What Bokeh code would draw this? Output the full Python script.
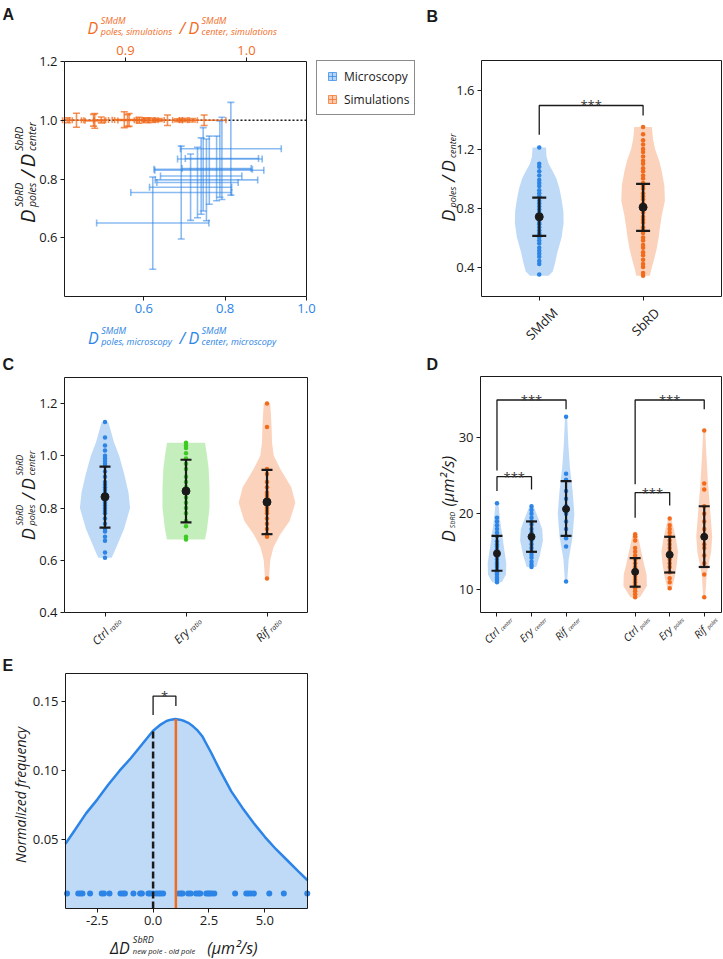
import math
from bokeh.plotting import figure
from bokeh.models import Range1d, LinearAxis, FixedTicker, Label, Legend, LegendItem
from bokeh.layouts import row, column
from bokeh.embed import file_html
from bokeh.resources import INLINE

FONT = "Open Sans"
LETTER_FONT = "Liberation Sans"
INK = "#1a1a1a"
BLUE = "#2b84e6"
ORANGE = "#f26b1d"
GREEN = "#3ccb22"

# ---------------- Panel A data ----------------
A_xr = (0.405, 1.0)
A_top_xr = (0.8496, 1.0496)
A_yr = (0.4, 1.2)
A_xticks = [0.6, 0.8, 1.0]
A_xlabels = ["0.6", "0.8", "1.0"]
A_topticks = [0.9, 1.0]
A_toplabels = ["0.9", "1.0"]
A_yticks = [0.6, 0.8, 1.0, 1.2]
A_ylabels = ["0.6", "0.8", "1.0", "1.2"]
A_unity = 1.0
mic_x = [0.622, 0.692, 0.715, 0.732, 0.741, 0.746, 0.754, 0.761, 0.779, 0.787, 0.792, 0.814]
mic_xerr = [0.138, 0.124, 0.101, 0.100, 0.100, 0.121, 0.126, 0.134, 0.085, 0.104, 0.090, 0.124]
mic_y = [0.650, 0.754, 0.772, 0.788, 0.810, 0.833, 0.797, 0.830, 0.836, 0.868, 0.870, 0.903]
mic_yerr = [0.157, 0.158, 0.113, 0.120, 0.130, 0.142, 0.139, 0.116, 0.110, 0.130, 0.140, 0.158]
sim_x = [0.852, 0.8595, 0.8736, 0.8746, 0.880, 0.899, 0.9017, 0.903, 0.9113, 0.9155, 0.9188,
         0.9229, 0.928, 0.9347, 0.943, 0.9485, 0.9554, 0.965]
sim_xerr = [0.004, 0.006, 0.010, 0.008, 0.006, 0.010, 0.008, 0.012, 0.004, 0.004, 0.004,
            0.004, 0.004, 0.010, 0.004, 0.004, 0.004, 0.018]
sim_y = [1.000, 1.000, 1.000, 0.998, 1.001, 1.002, 0.999, 1.001, 1.000, 1.001, 1.000,
         1.000, 1.001, 1.000, 1.000, 1.001, 1.000, 1.000]
sim_yerr = [0.008, 0.024, 0.020, 0.025, 0.010, 0.027, 0.020, 0.022, 0.010, 0.006, 0.008,
            0.006, 0.005, 0.018, 0.005, 0.006, 0.006, 0.018]
legend_labels = ["Microscopy", "Simulations"]

# ---------------- Panel B data ----------------
B_cats = ["SMdM", "SbRD"]
B_pos = [0, 1]
B_xr = (-0.556, 1.755)
B_yr = (0.2, 1.8)
B_yticks = [0.4, 0.8, 1.2, 1.6]
B_ylabels = ["0.4", "0.8", "1.2", "1.6"]
smdm_prof_y = [0.34, 0.37, 0.42, 0.50, 0.60, 0.70, 0.78, 0.86, 0.93, 1.00, 1.05, 1.10, 1.15, 1.21]
smdm_prof_w = [0.09, 0.13, 0.15, 0.175, 0.215, 0.235, 0.232, 0.215, 0.195, 0.165, 0.13, 0.09, 0.07, 0.065]
sbrd_prof_y = [0.34, 0.40, 0.45, 0.52, 0.60, 0.68, 0.75, 0.85, 0.95, 1.05, 1.12, 1.20, 1.27, 1.35]
sbrd_prof_w = [0.065, 0.085, 0.105, 0.13, 0.15, 0.165, 0.18, 0.21, 0.205, 0.18, 0.155, 0.115, 0.095, 0.085]
smdm_pts = [0.35, 0.42, 0.44, 0.47, 0.49, 0.51, 0.53, 0.56, 0.58, 0.60, 0.62, 0.63, 0.65, 0.67, 0.69,
            0.70, 0.72, 0.74, 0.75, 0.77, 0.79, 0.81, 0.83, 0.85, 0.88, 0.90, 0.92, 0.95, 0.97,
            0.99, 1.02, 1.05, 1.08, 1.10, 1.21]
sbrd_pts = [0.34, 0.36, 0.40, 0.42, 0.45, 0.48, 0.50, 0.53, 0.55, 0.58, 0.60, 0.63, 0.65, 0.67,
            0.70, 0.72, 0.74, 0.77, 0.79, 0.81, 0.83, 0.86, 0.88, 0.90, 0.93, 0.95, 0.97, 1.00,
            1.02, 1.05, 1.07, 1.10, 1.12, 1.15, 1.18, 1.20, 1.23, 1.26, 1.30, 1.35]
B_mean = [0.74, 0.805]
B_lo = [0.611, 0.645]
B_hi = [0.87, 0.964]
B_sig = [(0, 1, 1.495, 1.297, 1.427, "***")]

# ---------------- Panel C data ----------------
C_cats = ["Ctrl", "Ery", "Rif"]
C_sub = "ratio"
C_pos = [0, 1, 2]
C_xr = (-0.5, 2.5)
C_yr = (0.4, 1.3)
C_yticks = [0.4, 0.6, 0.8, 1.0, 1.2]
C_ylabels = ["0.4", "0.6", "0.8", "1.0", "1.2"]
C_prof_y = [
    [0.61, 0.65, 0.72, 0.80, 0.86, 0.93, 1.00, 1.05, 1.10, 1.13],
    [0.68, 0.72, 0.80, 0.88, 0.95, 1.00, 1.05],
    [0.53, 0.60, 0.65, 0.70, 0.75, 0.82, 0.88, 0.95, 1.00, 1.05, 1.10, 1.15, 1.20],
]
C_prof_w = [
    [0.083, 0.14, 0.235, 0.31, 0.29, 0.237, 0.175, 0.113, 0.068, 0.04],
    [0.235, 0.26, 0.29, 0.29, 0.28, 0.26, 0.235],
    [0.025, 0.04, 0.08, 0.165, 0.28, 0.35, 0.30, 0.165, 0.083, 0.062, 0.058, 0.05, 0.04],
]
C_pts = [
    [0.61, 0.63, 0.675, 0.69, 0.71, 0.72, 0.74, 0.76, 0.78, 0.79, 0.80, 0.81, 0.82, 0.83, 0.84,
     0.85, 0.86, 0.87, 0.88, 0.89, 0.90, 0.92, 0.94, 0.96, 0.97, 0.98, 0.99, 1.00, 1.02, 1.04, 1.07, 1.13],
    [0.68, 0.69, 0.73, 0.75, 0.78, 0.80, 0.82, 0.84, 0.86, 0.88, 0.90, 0.92, 0.95, 0.97, 0.99,
     1.01, 1.03, 1.04, 1.05],
    [0.53, 0.69, 0.70, 0.72, 0.74, 0.76, 0.78, 0.79, 0.80, 0.81, 0.82, 0.83, 0.84, 0.85, 0.86,
     0.88, 0.90, 0.93, 0.95, 1.11, 1.20],
]
C_colors = [BLUE, GREEN, ORANGE]
C_mean = [0.843, 0.865, 0.823]
C_lo = [0.725, 0.745, 0.70]
C_hi = [0.959, 0.985, 0.946]

# ---------------- Panel D data ----------------
D_cats = ["Ctrl", "Ery", "Rif", "Ctrl", "Ery", "Rif"]
D_subs = ["center", "center", "center", "poles", "poles", "poles"]
D_pos = [0, 1, 2, 4, 5, 6]
D_xr = (-0.477, 6.5)
D_yr = (7.0, 38.1)
D_yticks = [10, 20, 30]
D_ylabels = ["10", "20", "30"]
D_prof_y = [
    [11.0, 12.0, 13.5, 15.0, 17.0, 19.0, 21.4],
    [13.0, 14.5, 16.5, 18.0, 19.5, 21.0],
    [11.0, 14.0, 17.0, 20.0, 23.0, 26.0, 29.0, 32.8],
    [9.0, 10.5, 12.0, 13.5, 15.0, 16.5, 17.3],
    [10.0, 11.5, 13.5, 15.0, 16.5, 18.0, 19.4],
    [9.0, 12.0, 15.0, 17.0, 20.0, 24.0, 28.0, 31.0],
]
D_prof_w = [
    [0.14, 0.26, 0.27, 0.22, 0.157, 0.095, 0.04],
    [0.14, 0.24, 0.33, 0.31, 0.19, 0.06],
    [0.03, 0.076, 0.19, 0.24, 0.19, 0.114, 0.067, 0.03],
    [0.14, 0.34, 0.33, 0.25, 0.18, 0.11, 0.06],
    [0.05, 0.14, 0.21, 0.24, 0.19, 0.12, 0.04],
    [0.03, 0.07, 0.20, 0.23, 0.18, 0.11, 0.06, 0.03],
]
D_pts = [
    [11.0, 11.3, 11.6, 12.0, 12.3, 12.6, 13.0, 13.3, 13.6, 14.0, 14.3, 14.6, 15.0, 15.3, 15.7,
     16.0, 16.4, 17.0, 17.5, 18.0, 18.5, 19.0, 19.5, 21.4],
    [13.0, 13.3, 13.7, 14.2, 14.6, 15.0, 15.5, 16.0, 16.5, 17.0, 17.5, 18.0, 18.6, 19.0, 19.5,
     20.0, 20.5, 21.0],
    [11.1, 15.7, 16.8, 17.0, 18.0, 19.0, 20.0, 20.6, 21.0, 22.0, 23.0, 24.5, 25.3, 32.8],
    [9.0, 9.4, 9.8, 10.2, 10.6, 11.0, 11.3, 11.7, 12.0, 12.3, 12.7, 13.0, 13.5, 14.0, 14.5,
     15.0, 15.5, 16.5, 17.0, 17.3],
    [10.2, 11.0, 11.5, 12.3, 13.0, 13.5, 14.0, 14.5, 15.0, 15.5, 16.0, 16.5, 17.0, 17.5, 18.0,
     18.5, 19.4],
    [9.0, 12.0, 13.5, 14.5, 15.5, 16.0, 17.0, 18.0, 19.0, 20.0, 21.0, 23.2, 24.0, 31.0],
]
D_colors = [BLUE, BLUE, BLUE, ORANGE, ORANGE, ORANGE]
D_mean = [14.78, 16.98, 20.63, 12.36, 14.6, 16.98]
D_lo = [12.5, 15.0, 17.1, 10.4, 12.27, 13.0]
D_hi = [17.1, 19.0, 24.3, 14.17, 16.98, 21.0]
D_sig = [(0, 2, 35.0, 25.7, 33.8, "***"), (0, 1, 24.9, 23.0, 23.2, "***"),
         (4, 6, 35.0, 23.9, 33.8, "***"), (4, 5, 22.8, 19.5, 21.1, "***")]

# ---------------- Panel E data ----------------
E_xr = (-3.92, 6.91)
E_yr = (0.0, 0.1705)
E_xticks = [-2.5, 0.0, 2.5, 5.0]
E_xlabels = ["-2.5", "0.0", "2.5", "5.0"]
E_yticks = [0.05, 0.10, 0.15]
E_ylabels = ["0.05", "0.10", "0.15"]
kde_x = [-3.92, -3.5, -3.0, -2.5, -2.0, -1.5, -1.0, -0.5, 0.0, 0.3, 0.6, 0.8, 1.0, 1.2, 1.4,
         1.6, 1.8, 2.0, 2.2, 2.4, 2.6, 2.8, 3.0, 3.5, 4.0, 4.5, 5.0, 5.5, 6.0, 6.5, 6.91]
kde_y = [0.047, 0.057, 0.069, 0.079, 0.090, 0.100, 0.109, 0.119, 0.129, 0.133, 0.136, 0.137,
         0.1375, 0.137, 0.136, 0.1345, 0.132, 0.129, 0.125, 0.119, 0.113, 0.1065, 0.100, 0.085,
         0.073, 0.062, 0.052, 0.043, 0.035, 0.027, 0.0205]
e_pts = [-3.85, -3.35, -3.25, -3.16, -2.82, -2.30, -2.20, -1.95, -1.46, -1.35, -1.26, -0.88,
         -0.58, -0.50, -0.21, -0.13, 0.0, 0.14, 0.25, 0.34, 0.45, 1.15, 1.25, 1.32, 1.57, 1.68,
         1.92, 2.03, 2.11, 2.38, 2.47, 2.54, 2.63, 2.74, 3.67, 4.17, 4.27, 4.38, 4.51, 5.20,
         5.85, 6.90]
e_rug_y = 0.0108
E_zero_x, E_zero_top = 0.0, 0.1295
E_mean_x, E_mean_top = 1.02, 0.1375
E_sig = [(0.0, 1.02, 0.1541, 0.1404, 0.1469, "*")]

# ---------------- text helpers ----------------
CW = {' ': 0.26, ',': 0.25, '.': 0.27, '/': 0.37, '(': 0.30, ')': 0.30, '-': 0.32, '*': 0.55,
      'A': 0.63, 'B': 0.65, 'C': 0.63, 'D': 0.73, 'E': 0.56, 'F': 0.53, 'M': 0.90, 'N': 0.75,
      'R': 0.63, 'S': 0.55, 'I': 0.28,
      'a': 0.56, 'b': 0.61, 'c': 0.48, 'd': 0.61, 'e': 0.56, 'f': 0.34, 'g': 0.55, 'h': 0.61,
      'i': 0.26, 'j': 0.26, 'k': 0.53, 'l': 0.26, 'm': 0.93, 'n': 0.61, 'o': 0.60, 'p': 0.61,
      'q': 0.61, 'r': 0.41, 's': 0.48, 't': 0.35, 'u': 0.61, 'v': 0.50, 'w': 0.78, 'x': 0.50,
      'y': 0.50, 'z': 0.47, 'μ': 0.62, '²': 0.36, 'Δ': 0.60}


def text_width(s, size):
    return sum(CW.get(c, 0.56) for c in s) * size


def put(fig, anchor, dx, dy, text, size, style="normal", color=INK, angle=0.0,
        font=FONT, align="left", baseline="alphabetic"):
    fig.add_layout(Label(x=anchor[0], y=anchor[1], x_offset=dx, y_offset=-dy, text=text,
                         text_font=font, text_font_size=f"{size}px", text_font_style=style,
                         text_color=color, angle=angle, text_align=align,
                         text_baseline=baseline))


def layout_tokens(tokens):
    out, a = [], 0.0
    for t in tokens:
        if t[0] == "t":
            _, s, size, style = t
            out.append((s, size, style, a, 0.0))
            a += text_width(s, size)
        elif t[0] == "g":
            a += t[1]
        else:
            _, sup, sub, ssz, bsz, rise, drop, style = t
            w = 0.0
            if sup:
                out.append((sup, ssz, style, a, -rise))
                w = max(w, text_width(sup, ssz))
            if sub:
                out.append((sub, bsz, style, a, drop))
                w = max(w, text_width(sub, bsz))
            a += w
    return out, a


def math_label(fig, anchor, rx, ry, tokens, angle=0.0, color=INK):
    items, W = layout_tokens(tokens)
    ux, uy = math.cos(angle), -math.sin(angle)
    vx, vy = math.sin(angle), math.cos(angle)
    ox, oy = rx - W / 2 * ux, ry - W / 2 * uy
    for (s, size, style, a, d) in items:
        put(fig, anchor, ox + a * ux + d * vx, oy + a * uy + d * vy, s, size, style, color, angle)


def rot_tick(fig, xval, yval, tokens, pad=5, color=INK):
    th = math.pi / 4
    items, W = layout_tokens(tokens)
    ux, uy = math.cos(th), -math.sin(th)
    vx, vy = math.sin(th), math.cos(th)
    pts = []
    for (s, size, style, a, d) in items:
        w = text_width(s, size)
        for aa in (a, a + w):
            for dd in (d - 0.72 * size, d + 0.22 * size):
                pts.append((aa * ux + dd * vx, aa * uy + dd * vy))
    xmin = min(p[0] for p in pts)
    xmax = max(p[0] for p in pts)
    ymin = min(p[1] for p in pts)
    ox, oy = -(xmin + xmax) / 2, pad - ymin
    for (s, size, style, a, d) in items:
        put(fig, (xval, yval), ox + a * ux + d * vx, oy + a * uy + d * vy, s, size, style, color, th)


def span_x(f0, f1, b0, b1, d0, d1):
    s = (d1 - d0) / (b1 - b0)
    return d0 - (b0 - f0) * s, d1 + (f1 - b1) * s


def span_y(f0, f1, b0, b1, dbot, dtop):
    s = (dtop - dbot) / (b1 - b0)
    return dbot - (f1 - b1) * s, dtop + (b0 - f0) * s


def mkfig(fx, fy, box, xd, yd):
    """fx, fy: canvas extent on the page; box: plot box (left, top, right, bottom) on the page."""
    p = figure(width=fx[1] - fx[0], height=fy[1] - fy[0],
               x_range=Range1d(*span_x(fx[0], fx[1], box[0], box[2], *xd)),
               y_range=Range1d(*span_y(fy[0], fy[1], box[1], box[3], *yd)),
               x_axis_location=None, y_axis_location=None,
               output_backend="svg", toolbar_location=None, min_border=0)
    p.title.visible = False
    p.xgrid.visible = False
    p.ygrid.visible = False
    p.outline_line_color = None
    p.background_fill_color = "white"
    p.border_fill_color = "white"
    return p


def add_axes(p, xd, yd, xticks, xlabels, yticks, ylabels):
    xa = LinearAxis(fixed_location=yd[0], bounds=xd)
    ya = LinearAxis(fixed_location=xd[0], bounds=yd)
    p.add_layout(xa, "below")
    p.add_layout(ya, "left")
    set_ticks(xa, xticks, xlabels)
    set_ticks(ya, yticks, ylabels)
    return xa, ya


def style_axes(p):
    for ax in p.axis:
        ax.major_tick_in = 0
        ax.major_tick_out = 4
        ax.minor_tick_line_color = None
        ax.axis_line_color = None
        ax.major_tick_line_color = INK
        ax.major_label_text_font = FONT
        ax.major_label_text_font_size = "13px"
        ax.major_label_text_color = INK
        ax.major_label_standoff = 3


def set_ticks(ax, ticks, labels):
    ax.ticker = FixedTicker(ticks=ticks)
    ax.major_label_overrides = {float(t): l for t, l in zip(ticks, labels)}


def box(p, xd, yd):
    p.quad(left=[xd[0]], right=[xd[1]], bottom=[yd[0]], top=[yd[1]], fill_color=None,
           line_color=INK, line_width=1)


def violins(p, centers, profs_y, profs_w, colors):
    xs, ys = [], []
    for c, py, pw in zip(centers, profs_y, profs_w):
        xs.append([c - w for w in pw] + [c + w for w in reversed(pw)])
        ys.append(list(py) + list(reversed(py)))
    p.patches(xs, ys, fill_color=colors, fill_alpha=0.3, line_color=None)


def strips(p, centers, pts_list, colors, size):
    for c, pts, col in zip(centers, pts_list, colors):
        p.scatter(x=[c] * len(pts), y=pts, size=size, fill_color=col, line_color=None)


def errbars(p, centers, means, lo, hi, cap, dot, lw=2.2):
    p.segment(x0=centers, y0=lo, x1=centers, y1=hi, line_color=INK, line_width=lw)
    p.scatter(x=list(centers) * 2, y=list(lo) + list(hi), marker="dash", size=cap,
              line_color=INK, line_width=lw)
    p.scatter(x=centers, y=means, size=dot, fill_color=INK, line_color=INK)


def brackets(p, sigs, size=13):
    for (x1, x2, top, yl, yr, txt) in sigs:
        p.line(x=[x1, x1, x2, x2], y=[yl, top, top, yr], line_color=INK, line_width=1.3)
        p.add_layout(Label(x=(x1 + x2) / 2, y=top, y_offset=0, text=txt, text_align="center",
                           text_baseline="alphabetic", text_font=FONT,
                           text_font_size=f"{size}px", text_color="#333333"))


def rel(frame, px, py):
    return px - frame[0], py - frame[1]


# page geometry (canvas pixels)
COLS = [(0, 424), (424, 722)]
ROWS = [(0, 350), (350, 648), (648, 958)]
BOX_A = (64, 61, 306, 296)
BOX_B = (481, 60, 721, 296)
BOX_C = (64, 377, 307, 612)
BOX_D = (480, 376, 721, 612)
BOX_E = (65, 673, 307, 908)

# ---------------- Panel A ----------------
pA = mkfig(COLS[0], ROWS[0], BOX_A, A_xr, A_yr)
pA.extra_x_ranges = {"top": Range1d(*span_x(COLS[0][0], COLS[0][1], BOX_A[0], BOX_A[2], *A_top_xr))}
xaA, yaA = add_axes(pA, A_xr, A_yr, A_xticks, A_xlabels, A_yticks, A_ylabels)
taA = LinearAxis(x_range_name="top", fixed_location=A_yr[1], bounds=A_top_xr)
pA.add_layout(taA, "above")
set_ticks(taA, A_topticks, A_toplabels)
style_axes(pA)
xaA.major_label_text_color = BLUE
taA.major_label_text_color = ORANGE

pA.line(x=list(A_xr), y=[A_unity, A_unity], line_color=INK, line_width=1.5, line_dash="2 2")
mx_lo = [x - e for x, e in zip(mic_x, mic_xerr)]
mx_hi = [x + e for x, e in zip(mic_x, mic_xerr)]
my_lo = [y - e for y, e in zip(mic_y, mic_yerr)]
my_hi = [y + e for y, e in zip(mic_y, mic_yerr)]
bk = dict(line_color=BLUE, line_alpha=0.55, line_width=1.6)
pA.segment(x0=mx_lo, y0=mic_y, x1=mx_hi, y1=mic_y, **bk)
pA.segment(x0=mic_x, y0=my_lo, x1=mic_x, y1=my_hi, **bk)
pA.scatter(x=mx_lo + mx_hi, y=mic_y * 2, marker="dash", angle=math.pi / 2, size=7, **bk)
pA.scatter(x=mic_x * 2, y=my_lo + my_hi, marker="dash", size=7, **bk)
sx_lo = [x - e for x, e in zip(sim_x, sim_xerr)]
sx_hi = [x + e for x, e in zip(sim_x, sim_xerr)]
sy_lo = [y - e for y, e in zip(sim_y, sim_yerr)]
sy_hi = [y + e for y, e in zip(sim_y, sim_yerr)]
ok = dict(line_color=ORANGE, line_alpha=0.75, line_width=1.6, x_range_name="top")
pA.segment(x0=sx_lo, y0=sim_y, x1=sx_hi, y1=sim_y, **ok)
pA.segment(x0=sim_x, y0=sy_lo, x1=sim_x, y1=sy_hi, **ok)
pA.scatter(x=sx_lo + sx_hi, y=sim_y * 2, marker="dash", angle=math.pi / 2, size=6, **ok)
pA.scatter(x=sim_x * 2, y=sy_lo + sy_hi, marker="dash", size=7, **ok)
box(pA, A_xr, A_yr)

# legend (dummy markers placed off-canvas only serve as legend glyphs)
r1 = pA.scatter(x=[A_xr[0] - 5], y=[A_yr[0] - 5], marker="square_cross", size=8,
                fill_color=BLUE, fill_alpha=0.35, line_color=BLUE, line_alpha=0.7)
r2 = pA.scatter(x=[A_xr[0] - 5], y=[A_yr[0] - 5], marker="square_cross", size=8,
                fill_color=ORANGE, fill_alpha=0.35, line_color=ORANGE, line_alpha=0.7)
leg = Legend(items=[LegendItem(label=legend_labels[0], renderers=[r1]),
                    LegendItem(label=legend_labels[1], renderers=[r2])],
             location=(316 - COLS[0][0], ROWS[0][1] - 115), border_line_color=INK,
             border_line_width=1, background_fill_color="white", background_fill_alpha=1.0,
             label_text_font=FONT, label_text_font_size="12px", label_text_color=INK,
             padding=5, spacing=3, glyph_width=20, glyph_height=20, label_standoff=2,
             label_height=20, margin=0)
pA.add_layout(leg)

FA = BOX_A[:2]
aA = (A_xr[0], A_yr[1])
put(pA, aA, *rel(FA, 2, 14), "A", 16, "bold", INK, font=LETTER_FONT)
math_label(pA, aA, *rel(FA, 184, 27),
           [("t", "D", 16, "italic"), ("g", 1.5),
            ("ss", "SMdM", "poles, simulations", 9, 9, 7.5, 3.5, "italic"), ("g", 3),
            ("t", "/", 16, "italic"), ("g", 3), ("t", "D", 16, "italic"), ("g", 1.5),
            ("ss", "SMdM", "center, simulations", 9, 9, 7.5, 3.5, "italic")], 0.0, ORANGE)
math_label(pA, aA, *rel(FA, 184, 337),
           [("t", "D", 16, "italic"), ("g", 1.5),
            ("ss", "SMdM", "poles, microscopy", 9, 9, 7.5, 3.5, "italic"), ("g", 3),
            ("t", "/", 16, "italic"), ("g", 3), ("t", "D", 16, "italic"), ("g", 1.5),
            ("ss", "SMdM", "center, microscopy", 9, 9, 7.5, 3.5, "italic")], 0.0, BLUE)
math_label(pA, aA, *rel(FA, 27, 171),
           [("t", "D", 20, "italic"), ("g", 1.5),
            ("ss", "SbRD", "poles", 10.5, 10.5, 9, 4.5, "italic"), ("g", 3),
            ("t", "/", 20, "italic"), ("g", 3), ("t", "D", 20, "italic"), ("g", 1.5),
            ("ss", "SbRD", "center", 10.5, 10.5, 9, 4.5, "italic")], math.pi / 2, INK)

# ---------------- Panel B ----------------
pB = mkfig(COLS[1], ROWS[0], BOX_B, B_xr, B_yr)
add_axes(pB, B_xr, B_yr, B_pos, ["", ""], B_yticks, B_ylabels)
style_axes(pB)
violins(pB, B_pos, [smdm_prof_y, sbrd_prof_y], [smdm_prof_w, sbrd_prof_w], [BLUE, ORANGE])
strips(pB, B_pos, [smdm_pts, sbrd_pts], [BLUE, ORANGE], 4.5)
errbars(pB, B_pos, B_mean, B_lo, B_hi, 14, 8)
brackets(pB, B_sig)
box(pB, B_xr, B_yr)
FB = BOX_B[:2]
aB = (B_xr[0], B_yr[1])
put(pB, aB, *rel(FB, 426, 16), "B", 16, "bold", INK, font=LETTER_FONT)
math_label(pB, aB, *rel(FB, 447, 176),
           [("t", "D", 18, "italic"), ("g", 1), ("ss", "", "poles", 9, 9, 0, 4.5, "italic"),
            ("g", 3), ("t", "/", 18, "italic"), ("g", 3), ("t", "D", 18, "italic"), ("g", 1),
            ("ss", "", "center", 9, 9, 0, 4.5, "italic")], math.pi / 2, INK)
for pos, cat in zip(B_pos, B_cats):
    rot_tick(pB, pos, B_yr[0], [("t", cat, 13, "normal")], pad=7)

# ---------------- Panel C ----------------
pC = mkfig(COLS[0], ROWS[1], BOX_C, C_xr, C_yr)
add_axes(pC, C_xr, C_yr, C_pos, ["", "", ""], C_yticks, C_ylabels)
style_axes(pC)
violins(pC, C_pos, C_prof_y, C_prof_w, C_colors)
strips(pC, C_pos, C_pts, C_colors, 4.5)
errbars(pC, C_pos, C_mean, C_lo, C_hi, 11, 8)
box(pC, C_xr, C_yr)
FC = BOX_C[:2]
aC = (C_xr[0], C_yr[1])
put(pC, aC, *rel(FC, 2, 364), "C", 16, "bold", INK, font=LETTER_FONT)
math_label(pC, aC, *rel(FC, 27, 494),
           [("t", "D", 18, "italic"), ("g", 1.5),
            ("ss", "SbRD", "poles", 9, 9, 8, 4, "italic"), ("g", 3),
            ("t", "/", 18, "italic"), ("g", 3), ("t", "D", 18, "italic"), ("g", 1.5),
            ("ss", "SbRD", "center", 9, 9, 8, 4, "italic")], math.pi / 2, INK)
for pos, cat in zip(C_pos, C_cats):
    rot_tick(pC, pos, C_yr[0], [("t", cat, 11.5, "italic"), ("g", 1),
                                ("ss", "", C_sub, 7, 7, 0, 3, "italic")], pad=4)

# ---------------- Panel D ----------------
pD = mkfig(COLS[1], ROWS[1], BOX_D, D_xr, D_yr)
add_axes(pD, D_xr, D_yr, D_pos, [""] * 6, D_yticks, D_ylabels)
style_axes(pD)
violins(pD, D_pos, D_prof_y, D_prof_w, D_colors)
strips(pD, D_pos, D_pts, D_colors, 4.5)
errbars(pD, D_pos, D_mean, D_lo, D_hi, 11, 7)
brackets(pD, D_sig)
box(pD, D_xr, D_yr)
FD = BOX_D[:2]
aD = (D_xr[0], D_yr[1])
put(pD, aD, *rel(FD, 426, 364), "D", 16, "bold", INK, font=LETTER_FONT)
math_label(pD, aD, *rel(FD, 447, 497),
           [("t", "D", 18, "italic"), ("g", 1), ("ss", "", "SbRD", 7, 7, 0, 4.5, "italic"),
            ("g", 4), ("t", "(μm²/s)", 16, "italic")], math.pi / 2, INK)
for pos, cat, sub in zip(D_pos, D_cats, D_subs):
    rot_tick(pD, pos, D_yr[0], [("t", cat, 10.5, "italic"), ("g", 1.5),
                                ("ss", "", sub, 5.5, 5.5, 0, 2.5, "italic")], pad=3)

# ---------------- Panel E ----------------
pE = mkfig(COLS[0], ROWS[2], BOX_E, E_xr, E_yr)
add_axes(pE, E_xr, E_yr, E_xticks, E_xlabels, E_yticks, E_ylabels)
style_axes(pE)
pE.varea(x=kde_x, y1=[E_yr[0]] * len(kde_x), y2=kde_y, fill_color=BLUE, fill_alpha=0.3)
pE.line(x=kde_x, y=kde_y, line_color=BLUE, line_width=2.5)
pE.scatter(x=e_pts, y=[e_rug_y] * len(e_pts), size=6, fill_color=BLUE, line_color=None)
pE.segment(x0=[E_zero_x], y0=[E_yr[0]], x1=[E_zero_x], y1=[E_zero_top], line_color=INK,
           line_width=2.5, line_dash="7 3")
pE.segment(x0=[E_mean_x], y0=[E_yr[0]], x1=[E_mean_x], y1=[E_mean_top], line_color=ORANGE,
           line_width=2.5)
brackets(pE, E_sig)
box(pE, E_xr, E_yr)
FE = BOX_E[:2]
aE = (E_xr[0], E_yr[1])
put(pE, aE, *rel(FE, 2, 665), "E", 16, "bold", INK, font=LETTER_FONT)
math_label(pE, aE, *rel(FE, 20, 790), [("t", "Normalized frequency", 14, "italic")],
           math.pi / 2, INK)
math_label(pE, aE, *rel(FE, 185, 947),
           [("t", "ΔD", 16, "italic"), ("g", 1.5),
            ("ss", "SbRD", "new pole - old pole", 9, 7.5, 8, 3.5, "italic"), ("g", 8),
            ("t", "(μm²/s)", 16, "italic")], 0.0, INK)

layout = column(row(pA, pB), row(pC, pD), pE)
open("out.html", "w").write(file_html(layout, INLINE))
